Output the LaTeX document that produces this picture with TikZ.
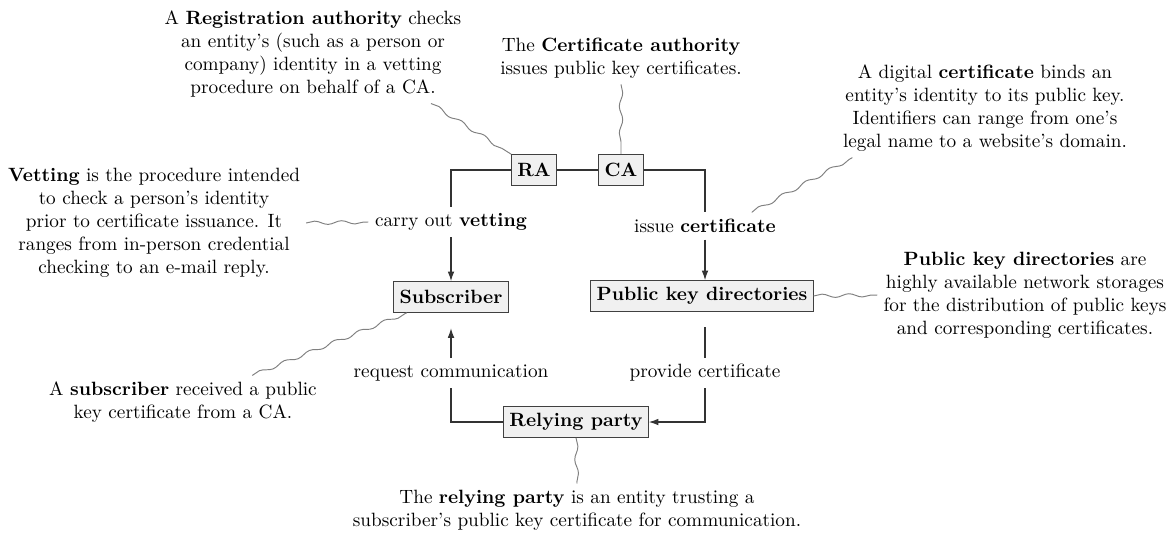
\documentclass[tikz,border=0pt]{standalone}
\usetikzlibrary{arrows.meta,decorations.pathmorphing}

\tikzset{
    box/.style={draw=black!75, fill=gray!12, font=\bfseries, line width=0.5pt,
        inner xsep=3pt, minimum height=16pt},
    note/.style={align=center, inner sep=3pt},
    flow/.style={draw=black!80, line width=0.6pt},
    squiggle/.style={draw=gray, line width=0.5pt, decorate,
        decoration={snake, amplitude=0.9pt, segment length=14pt}}
}

\begin{document}
\begin{tikzpicture}[x=0.52pt, y=-0.52pt, >={Latex[length=5pt,width=3.5pt]}]
    \useasboundingbox (0,0) rectangle (1175,533);

    % Entities:
    % Boxes are placed at fixed coordinates (pixel grid of the sketch)
    \node [box] (ra)  at (534,170) {RA};
    \node [box] (ca)  at (621,170) {CA};
    \node [box] (sub) at (451,297) {Subscriber};
    \node [box] (pkd) at (702,296) {Public key directories};
    \node [box] (rp)  at (576,422) {Relying party};

    % Edge labels:
    % Plain nodes, the lines stop at their borders
    \node (lvet)  at (451,222) {carry out \textbf{vetting}};
    \node (lcert) at (705,226) {issue \textbf{certificate}};
    \node (lreq)  at (451,373) {request communication};
    \node (lprov) at (705,373) {provide certificate};

    % Flow lines:
    \draw [flow] (ra) -- (ca);
    \draw [flow] (ra.west) -| (lvet.north);
    \draw [flow,->] (lvet.south) -- (lvet.south |- sub.north);
    \draw [flow] (ca.east) -| (lcert.north);
    \draw [flow,->] (lcert.south) -- (lcert.south |- pkd.north);
    \draw [flow] (rp.west) -| (lreq.south);
    \draw [flow,->, shorten >=8pt] (lreq.north) -- (lreq.north |- sub.south);
    \draw [flow, shorten <=8pt] (pkd.south -| lprov.north) -- (lprov.north);
    \draw [flow,->] (lprov.south) |- (rp.east);

    % Explanations:
    \node [note] (nra) at (313,54) {A \textbf{Registration authority} checks\\
        an entity's (such as a person or\\ company) identity in a vetting\\
        procedure on behalf of a CA.};
    \node [note] (nca) at (621,58) {The \textbf{Certificate authority}\\
        issues public key certificates.};
    \node [note] (ncert) at (985,108) {A digital \textbf{certificate} binds an\\
        entity's identity to its public key.\\ Identifiers can range from one's\\
        legal name to a website's domain.};
    \node [note] (nvet) at (154,223) {\textbf{Vetting} is the procedure intended\\
        to check a person's identity\\ prior to certificate issuance. It\\
        ranges from in-person credential\\ checking to an e-mail reply.};
    \node [note] (npkd) at (1025,295) {\textbf{Public key directories} are\\
        highly available network storages\\ for the distribution of public keys\\
        and corresponding certificates.};
    \node [note] (nsub) at (183,402) {A \textbf{subscriber} received a public\\
        key certificate from a CA.};
    \node [note] (nrp) at (577,510) {The \textbf{relying party} is an entity trusting a\\
        subscriber's public key certificate for communication.};

    % Wavy pointers from the explanations to their items:
    \draw [squiggle] ([xshift=-19pt]nra.south east) -- (ra.north west);
    \draw [squiggle] (nca.south) -- (ca.north);
    \draw [squiggle] ([xshift=-16pt]lcert.north east) -- ([xshift=8pt]ncert.south west);
    \draw [squiggle] (nvet.east) -- (lvet.west);
    \draw [squiggle] (pkd.east) -- (npkd.west);
    \draw [squiggle] ([xshift=36pt]nsub.north) -- ([xshift=7pt]sub.south west);
    \draw [squiggle] (rp.south) -- (nrp.north);
\end{tikzpicture}
\end{document}
